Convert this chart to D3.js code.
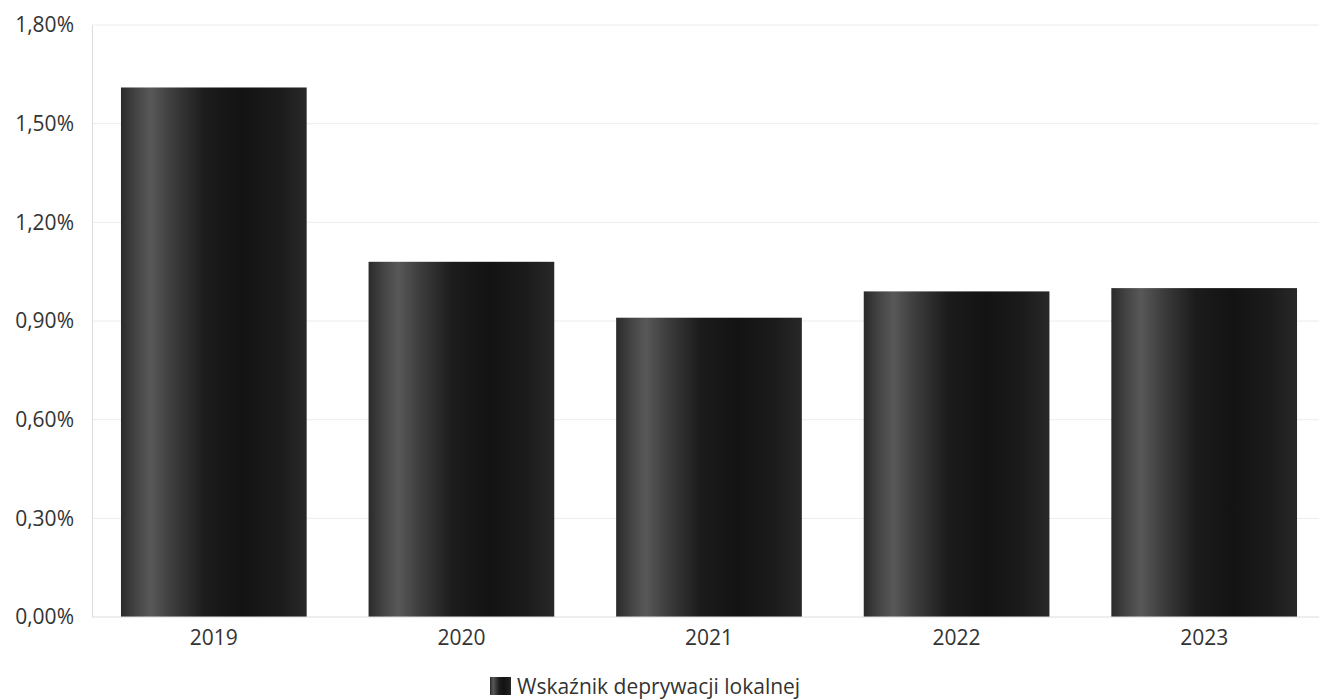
<!DOCTYPE html>
<html>
<head>
<meta charset="utf-8">
<script src="https://cdn.jsdelivr.net/npm/d3@7/dist/d3.min.js"></script>
<style>
  html, body { margin: 0; padding: 0; background: #fff; }
  svg { display: block; }
  text { font-family: "Open Sans", "Noto Sans", sans-serif; fill: #333; }
</style>
</head>
<body>
<svg id="chart" width="1319" height="699"></svg>
<script>
const categories = ["2019", "2020", "2021", "2022", "2023"];
const values = [1.61, 1.08, 0.91, 0.99, 1.00];
const yTicks = [0, 0.3, 0.6, 0.9, 1.2, 1.5, 1.8];
const seriesName = "Wskaźnik deprywacji lokalnej";

const W = 1319, H = 699;
const margin = { left: 92, top: 25, bottom: 82 };
const svg = d3.select("#chart");

const x = d3.scaleBand().domain(categories)
  .range([margin.left, 1326])
  .paddingInner(0.25).paddingOuter(0.117);
const y = d3.scaleLinear().domain([0, 1.8]).range([H - margin.bottom, margin.top]);

const defs = svg.append("defs");
const grad = defs.append("linearGradient").attr("id", "barGrad")
  .attr("x1", "0%").attr("x2", "100%").attr("y1", "0%").attr("y2", "0%");
[[0, "#2a2a2a"], [0.08, "#444"], [0.16, "#585858"], [0.28, "#3c3c3c"],
 [0.45, "#1c1c1c"], [0.65, "#131313"], [0.85, "#1b1b1b"], [1, "#282828"]]
  .forEach(([o, c]) => grad.append("stop").attr("offset", o).attr("stop-color", c));

const fmt = v => d3.format(".2f")(v).replace(".", ",") + "%";

// gridlines
svg.append("g").selectAll("line").data(yTicks.filter(t => t > 0)).join("line")
  .attr("x1", margin.left).attr("x2", W)
  .attr("y1", d => y(d)).attr("y2", d => y(d))
  .attr("stroke", "#ececec").attr("stroke-width", 1);

// y axis
const yAxis = svg.append("g").attr("transform", `translate(${margin.left},0)`)
  .call(d3.axisLeft(y).tickValues(yTicks).tickFormat(fmt).tickSize(0).tickPadding(18));
yAxis.select(".domain").attr("stroke", "#dcdcdc");
yAxis.selectAll("text").style("font-size", "21px").attr("fill", "#333");

// bars
svg.append("g").selectAll("rect").data(categories).join("rect")
  .attr("x", d => x(d)).attr("width", x.bandwidth())
  .attr("y", (d, i) => y(values[i]))
  .attr("height", (d, i) => y(0) - y(values[i]))
  .attr("fill", "url(#barGrad)");

// x axis
const xAxis = svg.append("g").attr("transform", `translate(0,${y(0)})`)
  .call(d3.axisBottom(x).tickSize(0).tickPadding(13));
xAxis.select(".domain").attr("stroke", "#dcdcdc").attr("d", `M${margin.left},0H${W}`);
xAxis.selectAll("text").style("font-size", "21px").attr("fill", "#333");

// legend
const lg = svg.append("g").attr("transform", "translate(490,687)");
lg.append("rect").attr("x", 0).attr("y", -10).attr("width", 21).attr("height", 18)
  .attr("fill", "url(#barGrad)");
lg.append("text").attr("x", 27).attr("y", 0).attr("dy", "0.35em")
  .style("font-size", "21px").text(seriesName);
</script>
</body>
</html>
